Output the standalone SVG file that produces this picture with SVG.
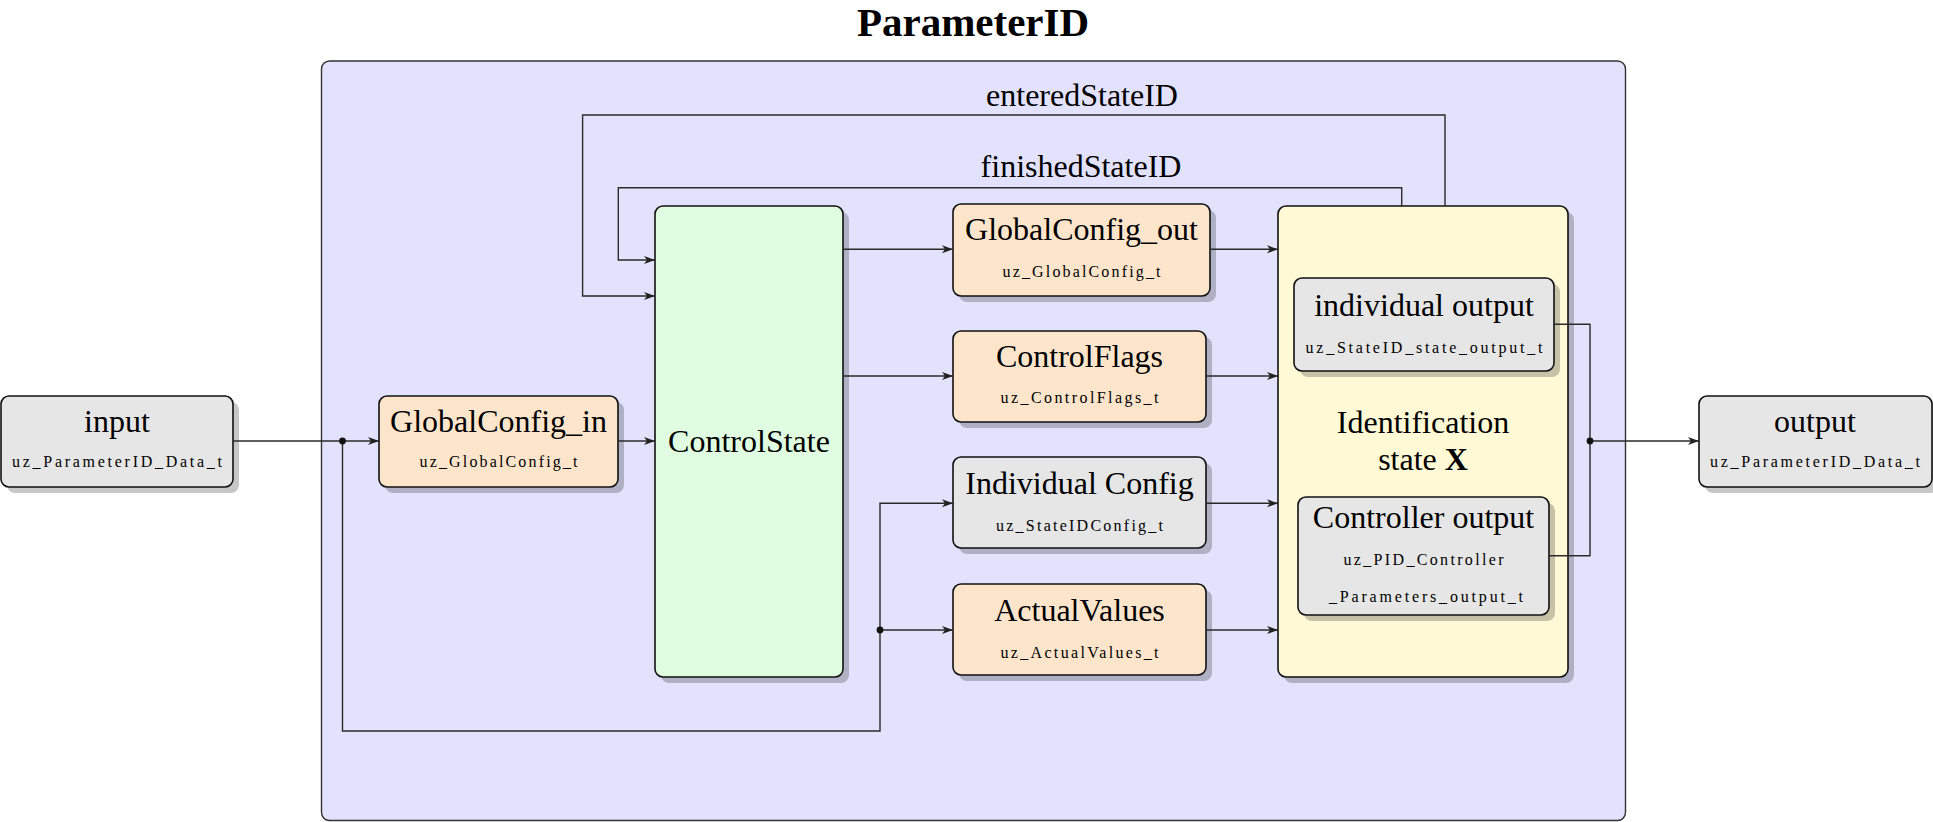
<svg xmlns="http://www.w3.org/2000/svg" width="1933" height="822" viewBox="0 0 1933 822">
<defs>
<marker id="arr" markerWidth="11" markerHeight="9" refX="11" refY="4.5" orient="auto" markerUnits="userSpaceOnUse">
<path d="M0,0.5 L11,4.5 L0,8.5 L3,4.5 Z" fill="#222"/>
</marker>
</defs>
<style>
.title{font-family:"Liberation Serif","Times New Roman",serif;font-size:32px;fill:#000;text-anchor:middle}
.sub{font-family:"Liberation Serif","Times New Roman",serif;font-size:16px;fill:#000;text-anchor:middle}
.head{font-family:"Liberation Serif","Times New Roman",serif;font-size:41px;font-weight:bold;fill:#000;text-anchor:middle}
.box{stroke:#111;stroke-width:1.6}
.sh{fill:#000;fill-opacity:0.22}
.gray{fill:#e6e6e6}
.peach{fill:#fde5cc}
.green{fill:#e1fde1}
.yellow{fill:#fff9d6}
.wire{fill:none;stroke:#2a2a2a;stroke-width:1.4}
.dot{fill:#111}
</style>
<rect width="1933" height="822" fill="#fff"/>
<text class="head" x="973" y="36">ParameterID</text>

<g id="ParameterID">
<rect x="321.5" y="61" width="1304" height="759.5" rx="8" fill="#e2e2fc" stroke="#333" stroke-width="1.4"/>
</g>

<g id="input">
<rect class="sh" x="7" y="402" width="232" height="91" rx="8"/>
<rect class="box gray" x="1" y="396" width="232" height="91" rx="8"/>
<text class="title" x="117" y="432">input</text>
<text class="sub" x="117" y="467" textLength="210">uz_ParameterID_Data_t</text>
</g>

<g id="GlobalConfig_in">
<rect class="sh" x="385" y="402" width="239" height="91" rx="8"/>
<rect class="box peach" x="379" y="396" width="239" height="91" rx="8"/>
<text class="title" x="498.5" y="432">GlobalConfig_in</text>
<text class="sub" x="498.5" y="467" textLength="158">uz_GlobalConfig_t</text>
</g>

<g id="ControlState">
<rect class="sh" x="661" y="212" width="188" height="471" rx="8"/>
<rect class="box green" x="655" y="206" width="188" height="471" rx="8"/>
<text class="title" x="749" y="452">ControlState</text>
</g>

<g id="GlobalConfig_out">
<rect class="sh" x="959" y="210" width="257" height="92" rx="8"/>
<rect class="box peach" x="953" y="204" width="257" height="92" rx="8"/>
<text class="title" x="1081.5" y="240">GlobalConfig_out</text>
<text class="sub" x="1081.5" y="277" textLength="158">uz_GlobalConfig_t</text>
</g>

<g id="ControlFlags">
<rect class="sh" x="959" y="337" width="253" height="91" rx="8"/>
<rect class="box peach" x="953" y="331" width="253" height="91" rx="8"/>
<text class="title" x="1079.5" y="367">ControlFlags</text>
<text class="sub" x="1079.5" y="403" textLength="158">uz_ControlFlags_t</text>
</g>

<g id="IndividualConfig">
<rect class="sh" x="959" y="463" width="253" height="91" rx="8"/>
<rect class="box gray" x="953" y="457" width="253" height="91" rx="8"/>
<text class="title" x="1079.5" y="494">Individual Config</text>
<text class="sub" x="1079.5" y="531" textLength="167">uz_StateIDConfig_t</text>
</g>

<g id="ActualValues">
<rect class="sh" x="959" y="590" width="253" height="91" rx="8"/>
<rect class="box peach" x="953" y="584" width="253" height="91" rx="8"/>
<text class="title" x="1079.5" y="621">ActualValues</text>
<text class="sub" x="1079.5" y="658" textLength="158">uz_ActualValues_t</text>
</g>

<g id="IdentificationState">
<rect class="sh" x="1284" y="212" width="290" height="471" rx="8"/>
<rect class="box yellow" x="1278" y="206" width="290" height="471" rx="8"/>
<text class="title" x="1423" y="433">Identification</text>
<text class="title" x="1423" y="470">state <tspan font-weight="bold">X</tspan></text>
</g>

<g id="individualOutput">
<rect class="sh" x="1300" y="284" width="260" height="93" rx="8"/>
<rect class="box gray" x="1294" y="278" width="260" height="93" rx="8"/>
<text class="title" x="1424" y="316">individual output</text>
<text class="sub" x="1424" y="353" textLength="237">uz_StateID_state_output_t</text>
</g>

<g id="ControllerOutput">
<rect class="sh" x="1304" y="503" width="251" height="118" rx="8"/>
<rect class="box gray" x="1298" y="497" width="251" height="118" rx="8"/>
<text class="title" x="1423.5" y="528">Controller output</text>
<text class="sub" x="1423.5" y="565" textLength="160">uz_PID_Controller</text>
<text class="sub" x="1426" y="602" textLength="194">_Parameters_output_t</text>
</g>

<g id="output">
<rect class="sh" x="1705" y="402" width="233" height="91" rx="8"/>
<rect class="box gray" x="1699" y="396" width="233" height="91" rx="8"/>
<text class="title" x="1815" y="432">output</text>
<text class="sub" x="1815" y="467" textLength="210">uz_ParameterID_Data_t</text>
</g>

<g id="connectors">
<path class="wire" d="M233,441 H379" marker-end="url(#arr)"/>
<path class="wire" d="M342.5,441 V731 H880 V503.3 H953" marker-end="url(#arr)"/>
<path class="wire" d="M880,630 H953" marker-end="url(#arr)"/>
<path class="wire" d="M618,441 H655" marker-end="url(#arr)"/>
<path class="wire" d="M843,249.3 H953" marker-end="url(#arr)"/>
<path class="wire" d="M843,376 H953" marker-end="url(#arr)"/>
<path class="wire" d="M1210,249.3 H1278" marker-end="url(#arr)"/>
<path class="wire" d="M1206,376 H1278" marker-end="url(#arr)"/>
<path class="wire" d="M1206,503.3 H1278" marker-end="url(#arr)"/>
<path class="wire" d="M1206,630 H1278" marker-end="url(#arr)"/>
<path class="wire" d="M1401.7,206 V187.7 H618.3 V260 H655" marker-end="url(#arr)"/>
<path class="wire" d="M1445,206 V115 H582.6 V296 H655" marker-end="url(#arr)"/>
<path class="wire" d="M1554,324.3 H1590 V555.7 H1549"/>
<path class="wire" d="M1590,441 H1699" marker-end="url(#arr)"/>
<circle class="dot" cx="342.5" cy="441" r="3.4"/>
<circle class="dot" cx="880" cy="630" r="3.4"/>
<circle class="dot" cx="1590" cy="441" r="3.4"/>
<text class="title" x="1082" y="106">enteredStateID</text>
<text class="title" x="1081" y="177">finishedStateID</text>
</g>
</svg>
